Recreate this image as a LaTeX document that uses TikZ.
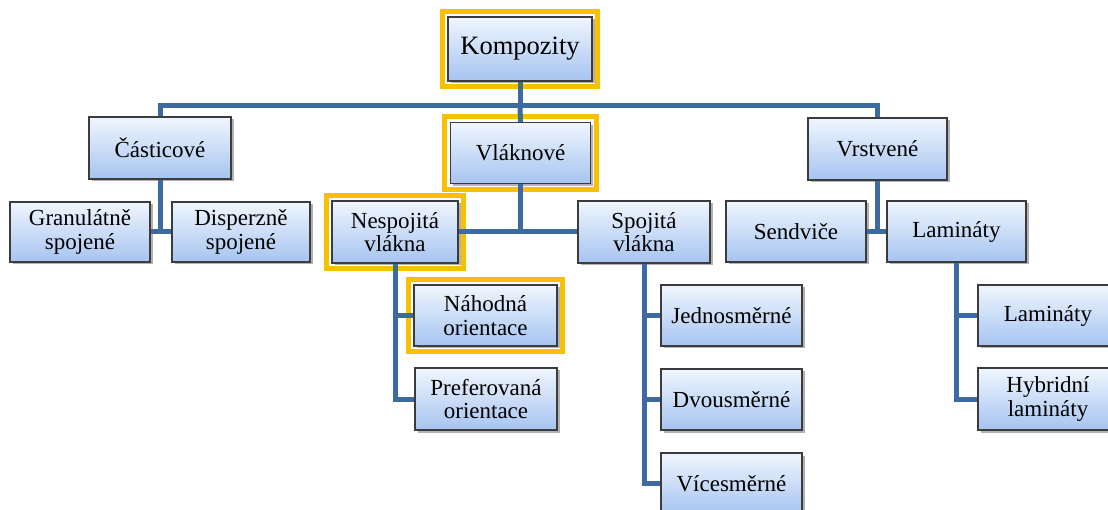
\documentclass[tikz,border=0pt]{standalone}
\usepackage{fontspec}
\setmainfont{Liberation Serif}
\usetikzlibrary{shadows,fit}
\definecolor{conncol}{RGB}{62,106,162}
\definecolor{boxtop}{RGB}{240,246,254}
\definecolor{boxbot}{RGB}{166,196,240}
\definecolor{boxline}{RGB}{60,60,60}
\definecolor{hlcol}{RGB}{247,192,0}
\tikzset{
  box/.style={draw=boxline, line width=1.2pt, top color=boxtop, bottom color=boxbot,
    inner sep=0pt, align=center, font=\fontsize{23}{23.5}\selectfont,
    drop shadow={shadow xshift=2.5pt, shadow yshift=-2.5pt, fill=black, opacity=0.3}},
  conn/.style={draw=conncol, line width=5pt},
  hl/.style={draw=hlcol, line width=5pt, inner sep=5pt}
}
\begin{document}
\begin{tikzpicture}[x=1pt,y=-1pt]
\useasboundingbox (0,0) rectangle (1108,510);
\clip (0,0) rectangle (1108,510);
\node[box, minimum width=144pt, minimum height=64pt, font=\fontsize{26.5}{28}\selectfont] (komp) at (520,49) {Kompozity};
\node[box, minimum width=142pt, minimum height=62pt] (cas) at (160,148) {Částicové};
\node[box, minimum width=140pt, minimum height=60pt] (gran) at (80,232) {Granulátně\\spojené};
\node[box, minimum width=138pt, minimum height=60pt] (disp) at (241,232) {Disperzně\\spojené};
\node[box, minimum width=140pt, minimum height=61pt] (vlak) at (520.5,153) {Vláknové};
\node[box, minimum width=126pt, minimum height=62pt] (nesp) at (395,232) {Nespojitá\\vlákna};
\node[box, minimum width=132pt, minimum height=62pt] (spoj) at (644,232) {Spojitá\\vlákna};
\node[box, minimum width=143pt, minimum height=61pt] (nah) at (485.5,315.5) {Náhodná\\orientace};
\node[box, minimum width=142pt, minimum height=62pt] (pref) at (486,399) {Preferovaná\\orientace};
\node[box, minimum width=141pt, minimum height=61pt] (jedn) at (731.5,315.5) {Jednosměrné};
\node[box, minimum width=141pt, minimum height=61pt] (dvou) at (731.5,399.5) {Dvousměrné};
\node[box, minimum width=141pt, minimum height=61pt] (vice) at (731.5,483.5) {Vícesměrné};
\node[box, minimum width=139pt, minimum height=62pt] (vrst) at (877.5,149) {Vrstvené};
\node[box, minimum width=140pt, minimum height=61pt] (send) at (796,231.5) {Sendviče};
\node[box, minimum width=139pt, minimum height=61pt] (lamA) at (956.5,231.5) {Lamináty};
\node[box, minimum width=140pt, minimum height=61pt] (lamB) at (1048,315.5) {Lamináty};
\node[box, minimum width=140pt, minimum height=62pt] (hyb) at (1048,399) {Hybridní\\lamináty};
% highlight frames
\node[hl, fit=(komp)] (kompF) {};
\node[hl, fit=(vlak)] (vlakF) {};
\node[hl, fit=(nesp)] (nespF) {};
\node[hl, fit=(nah)] (nahF) {};
% connectors
\coordinate (bus) at (520,106);
\draw[conn] (komp.south) -- (bus);
\draw[conn] (cas.north) |- (bus) -| (vrst.north);
\draw[conn] (bus) -- (vlak.north);
\draw[conn] (cas.south) -- (cas.south |- gran.east);
\draw[conn] (gran.east) -- (disp.west);
\draw[conn] (vlak.south) -- (vlak.south |- nesp.east);
\draw[conn] (nesp.east) -- (spoj.west);
\draw[conn] (nesp.south) |- (pref.west);
\draw[conn] (nesp.south |- nah.west) -- (nah.west);
\draw[conn] (spoj.south) |- (vice.west);
\draw[conn] (spoj.south |- jedn.west) -- (jedn.west);
\draw[conn] (spoj.south |- dvou.west) -- (dvou.west);
\draw[conn] (vrst.south) -- (vrst.south |- send.east);
\draw[conn] (send.east) -- (lamA.west);
\draw[conn] (lamA.south) |- (hyb.west);
\draw[conn] (lamA.south |- lamB.west) -- (lamB.west);
\end{tikzpicture}
\end{document}
